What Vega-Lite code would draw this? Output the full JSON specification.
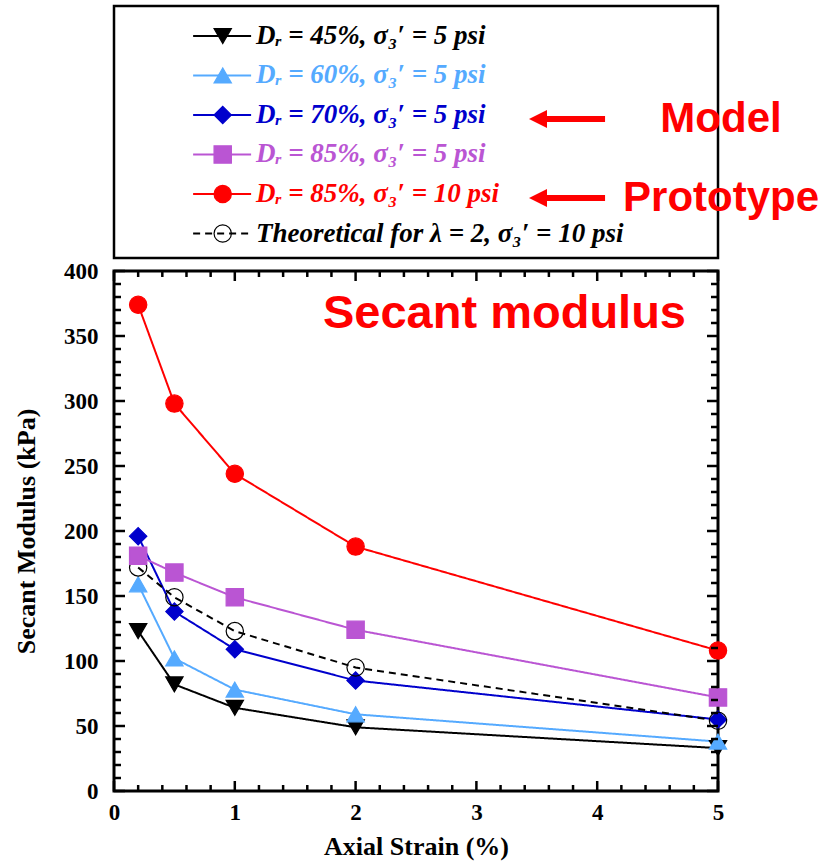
{
  "$schema": "https://vega.github.io/schema/vega-lite/v6.json",
  "padding": {"left": 12, "top": 4, "right": 0, "bottom": 0},
  "background": "white",
  "spacing": 13,
  "bounds": "flush",
  "config": {
    "view": {"stroke": "black", "strokeWidth": 3},
    "axis": {"grid": false, "domain": false, "ticks": false, "labelFont": "Liberation Serif", "titleFont": "Liberation Serif", "labelColor": "black", "titleColor": "black", "labelFlush": false, "labelOverlap": false}
  },
  "datasets": {
    "main": [
      {"series": "Dr45_5", "strain": 0.2, "modulus": 123},
      {"series": "Dr45_5", "strain": 0.5, "modulus": 82},
      {"series": "Dr45_5", "strain": 1, "modulus": 64},
      {"series": "Dr45_5", "strain": 2, "modulus": 49},
      {"series": "Dr45_5", "strain": 5, "modulus": 33},
      {"series": "Dr60_5", "strain": 0.2, "modulus": 159},
      {"series": "Dr60_5", "strain": 0.5, "modulus": 102},
      {"series": "Dr60_5", "strain": 1, "modulus": 78},
      {"series": "Dr60_5", "strain": 2, "modulus": 59},
      {"series": "Dr60_5", "strain": 5, "modulus": 38},
      {"series": "Dr70_5", "strain": 0.2, "modulus": 196},
      {"series": "Dr70_5", "strain": 0.5, "modulus": 138},
      {"series": "Dr70_5", "strain": 1, "modulus": 109},
      {"series": "Dr70_5", "strain": 2, "modulus": 85},
      {"series": "Dr70_5", "strain": 5, "modulus": 55},
      {"series": "Theory", "strain": 0.2, "modulus": 172},
      {"series": "Theory", "strain": 0.5, "modulus": 149},
      {"series": "Theory", "strain": 1, "modulus": 123},
      {"series": "Theory", "strain": 2, "modulus": 95},
      {"series": "Theory", "strain": 5, "modulus": 54},
      {"series": "Dr85_5", "strain": 0.2, "modulus": 181},
      {"series": "Dr85_5", "strain": 0.5, "modulus": 168},
      {"series": "Dr85_5", "strain": 1, "modulus": 149},
      {"series": "Dr85_5", "strain": 2, "modulus": 124},
      {"series": "Dr85_5", "strain": 5, "modulus": 72},
      {"series": "Dr85_10", "strain": 0.2, "modulus": 374},
      {"series": "Dr85_10", "strain": 0.5, "modulus": 298},
      {"series": "Dr85_10", "strain": 1, "modulus": 244},
      {"series": "Dr85_10", "strain": 2, "modulus": 188},
      {"series": "Dr85_10", "strain": 5, "modulus": 108}
    ],
    "legend": [
      {"series": "Dr45_5", "row": 1, "label": "Dᵣ = 45%,  σ₃′ = 5 psi"},
      {"series": "Dr60_5", "row": 2, "label": "Dᵣ = 60%,  σ₃′ = 5 psi"},
      {"series": "Dr70_5", "row": 3, "label": "Dᵣ = 70%,  σ₃′ = 5 psi"},
      {"series": "Dr85_5", "row": 4, "label": "Dᵣ = 85%,  σ₃′ = 5 psi"},
      {"series": "Dr85_10", "row": 5, "label": "Dᵣ = 85%,  σ₃′ = 10 psi"},
      {"series": "Theory", "row": 6, "label": "Theoretical for λ = 2,  σ₃′ = 10 psi"}
    ],
    "ann": [
      {"label": "Model", "row": 3},
      {"label": "Prototype", "row": 5}
    ],
    "note": [{"label": "Secant modulus"}],
    "xmajor": [{"strain": 0}, {"strain": 1}, {"strain": 2}, {"strain": 3}, {"strain": 4}, {"strain": 5}],
    "xminor": [{"strain": 0.2}, {"strain": 0.4}, {"strain": 0.6}, {"strain": 0.8}, {"strain": 1.2}, {"strain": 1.4}, {"strain": 1.6}, {"strain": 1.8}, {"strain": 2.2}, {"strain": 2.4}, {"strain": 2.6}, {"strain": 2.8}, {"strain": 3.2}, {"strain": 3.4}, {"strain": 3.6}, {"strain": 3.8}, {"strain": 4.2}, {"strain": 4.4}, {"strain": 4.6}, {"strain": 4.8}],
    "ymajor": [{"modulus": 0}, {"modulus": 50}, {"modulus": 100}, {"modulus": 150}, {"modulus": 200}, {"modulus": 250}, {"modulus": 300}, {"modulus": 350}, {"modulus": 400}],
    "yminor": [{"modulus": 10}, {"modulus": 20}, {"modulus": 30}, {"modulus": 40}, {"modulus": 60}, {"modulus": 70}, {"modulus": 80}, {"modulus": 90}, {"modulus": 110}, {"modulus": 120}, {"modulus": 130}, {"modulus": 140}, {"modulus": 160}, {"modulus": 170}, {"modulus": 180}, {"modulus": 190}, {"modulus": 210}, {"modulus": 220}, {"modulus": 230}, {"modulus": 240}, {"modulus": 260}, {"modulus": 270}, {"modulus": 280}, {"modulus": 290}, {"modulus": 310}, {"modulus": 320}, {"modulus": 330}, {"modulus": 340}, {"modulus": 360}, {"modulus": 370}, {"modulus": 380}, {"modulus": 390}]
  },
  "resolve": {"scale": {"x": "independent", "y": "independent"}},
  "vconcat": [
    {
      "width": 604,
      "height": 252,
      "view": {"stroke": "black", "strokeWidth": 2.5},
      "layer": [
        {
          "data": {"name": "legend"},
          "mark": {"type": "rule", "strokeWidth": 2},
          "encoding": {
            "x": {"datum": 13.1, "type": "quantitative", "scale": {"domain": [0, 100], "nice": false, "zero": false}, "axis": null},
            "x2": {"datum": 22.7},
            "y": {"field": "row", "type": "quantitative", "scale": {"domain": [0.241, 6.62], "reverse": true, "nice": false, "zero": false}, "axis": null},
            "color": {"field": "series", "type": "nominal", "legend": null, "scale": {"domain": ["Dr45_5", "Dr60_5", "Dr70_5", "Dr85_5", "Dr85_10", "Theory"], "range": ["#000000", "#55AAFF", "#0000CC", "#BA55D3", "#FF0000", "#000000"]}},
            "strokeDash": {"field": "series", "type": "nominal", "legend": null, "scale": {"domain": ["Dr45_5", "Dr60_5", "Dr70_5", "Dr85_5", "Dr85_10", "Theory"], "range": [[1, 0], [1, 0], [1, 0], [1, 0], [1, 0], [7, 5]]}}
          }
        },
        {
          "data": {"name": "legend"},
          "mark": {"type": "point", "strokeWidth": 1.2, "opacity": 1},
          "encoding": {
            "x": {"datum": 18.0, "type": "quantitative", "axis": null},
            "y": {"field": "row", "type": "quantitative", "axis": null},
            "shape": {"field": "series", "type": "nominal", "legend": null, "scale": {"domain": ["Dr45_5", "Dr60_5", "Dr70_5", "Dr85_5", "Dr85_10", "Theory"], "range": ["triangle-down", "triangle-up", "diamond", "square", "circle", "circle"]}},
            "fill": {"field": "series", "type": "nominal", "legend": null, "scale": {"domain": ["Dr45_5", "Dr60_5", "Dr70_5", "Dr85_5", "Dr85_10", "Theory"], "range": ["#000000", "#55AAFF", "#0000CC", "#BA55D3", "#FF0000", "transparent"]}},
            "stroke": {"field": "series", "type": "nominal", "legend": null, "scale": {"domain": ["Dr45_5", "Dr60_5", "Dr70_5", "Dr85_5", "Dr85_10", "Theory"], "range": ["#000000", "#55AAFF", "#0000CC", "#BA55D3", "#FF0000", "#000000"]}},
            "size": {"field": "series", "type": "nominal", "legend": null, "scale": {"domain": ["Dr45_5", "Dr60_5", "Dr70_5", "Dr85_5", "Dr85_10", "Theory"], "range": [300, 300, 290, 361, 270, 240]}}
          }
        },
        {
          "data": {"name": "legend"},
          "mark": {"type": "text", "align": "left", "baseline": "middle", "font": "Liberation Serif", "fontSize": 27, "fontWeight": "bold", "fontStyle": "italic"},
          "encoding": {
            "x": {"datum": 23.5, "type": "quantitative", "axis": null},
            "y": {"field": "row", "type": "quantitative", "axis": null},
            "text": {"field": "label"},
            "color": {"field": "series", "type": "nominal", "legend": null, "scale": {"domain": ["Dr45_5", "Dr60_5", "Dr70_5", "Dr85_5", "Dr85_10", "Theory"], "range": ["#000000", "#55AAFF", "#0000CC", "#BA55D3", "#FF0000", "#000000"]}}
          }
        },
        {
          "data": {"name": "ann"},
          "mark": {"type": "rule", "strokeWidth": 6, "color": "#FF0000", "yOffset": 4},
          "encoding": {
            "x": {"datum": 70.7, "type": "quantitative", "axis": null},
            "x2": {"datum": 81.3},
            "y": {"field": "row", "type": "quantitative", "axis": null}
          }
        },
        {
          "data": {"name": "ann"},
          "mark": {"type": "point", "shape": "M-1,0L1,-1L1,1Z", "filled": true, "color": "#FF0000", "opacity": 1, "size": 324, "yOffset": 4},
          "encoding": {
            "x": {"datum": 70.2, "type": "quantitative", "axis": null},
            "y": {"field": "row", "type": "quantitative", "axis": null}
          }
        },
        {
          "data": {"name": "ann"},
          "mark": {"type": "text", "align": "center", "baseline": "middle", "font": "Liberation Sans", "fontSize": 42, "fontWeight": "bold", "color": "#FF0000", "yOffset": 4},
          "encoding": {
            "x": {"datum": 100.5, "type": "quantitative", "axis": null},
            "y": {"field": "row", "type": "quantitative", "axis": null},
            "text": {"field": "label"}
          }
        }
      ]
    },
    {
      "width": 604,
      "height": 520,
      "view": {"stroke": "black", "strokeWidth": 3},
      "layer": [
        {
          "data": {"name": "main"},
          "mark": {"type": "line", "strokeWidth": 2},
          "encoding": {
            "x": {"field": "strain", "type": "quantitative", "scale": {"domain": [0, 5], "nice": false, "zero": false},
              "axis": {"orient": "bottom", "values": [0, 1, 2, 3, 4, 5], "format": "d", "labelFontSize": 23, "labelFontWeight": "bold", "labelPadding": 10, "title": "Axial Strain (%)", "titleFontSize": 26, "titleFontWeight": "bold", "titlePadding": 9}},
            "y": {"field": "modulus", "type": "quantitative", "scale": {"domain": [0, 400], "nice": false, "zero": false},
              "axis": {"orient": "left", "values": [0, 50, 100, 150, 200, 250, 300, 350, 400], "format": "d", "labelFontSize": 23, "labelFontWeight": "bold", "labelPadding": 16, "title": "Secant Modulus (kPa)", "titleFontSize": 26, "titleFontWeight": "bold", "titlePadding": 24}},
            "color": {"field": "series", "type": "nominal", "legend": null, "scale": {"domain": ["Dr45_5", "Dr60_5", "Dr70_5", "Dr85_5", "Dr85_10", "Theory"], "range": ["#000000", "#55AAFF", "#0000CC", "#BA55D3", "#FF0000", "#000000"]}},
            "strokeDash": {"field": "series", "type": "nominal", "legend": null, "scale": {"domain": ["Dr45_5", "Dr60_5", "Dr70_5", "Dr85_5", "Dr85_10", "Theory"], "range": [[1, 0], [1, 0], [1, 0], [1, 0], [1, 0], [7, 5]]}}
          }
        },
        {
          "data": {"name": "main"},
          "mark": {"type": "point", "strokeWidth": 1.2, "opacity": 1},
          "encoding": {
            "x": {"field": "strain", "type": "quantitative"},
            "y": {"field": "modulus", "type": "quantitative"},
            "shape": {"field": "series", "type": "nominal", "legend": null, "scale": {"domain": ["Dr45_5", "Dr60_5", "Dr70_5", "Dr85_5", "Dr85_10", "Theory"], "range": ["triangle-down", "triangle-up", "diamond", "square", "circle", "circle"]}},
            "fill": {"field": "series", "type": "nominal", "legend": null, "scale": {"domain": ["Dr45_5", "Dr60_5", "Dr70_5", "Dr85_5", "Dr85_10", "Theory"], "range": ["#000000", "#55AAFF", "#0000CC", "#BA55D3", "#FF0000", "transparent"]}},
            "stroke": {"field": "series", "type": "nominal", "legend": null, "scale": {"domain": ["Dr45_5", "Dr60_5", "Dr70_5", "Dr85_5", "Dr85_10", "Theory"], "range": ["#000000", "#55AAFF", "#0000CC", "#BA55D3", "#FF0000", "#000000"]}},
            "size": {"field": "series", "type": "nominal", "legend": null, "scale": {"domain": ["Dr45_5", "Dr60_5", "Dr70_5", "Dr85_5", "Dr85_10", "Theory"], "range": [300, 300, 290, 361, 270, 240]}}
          }
        },
        {
          "data": {"name": "xmajor"},
          "mark": {"type": "rule", "strokeWidth": 2.5, "color": "black"},
          "encoding": {"x": {"field": "strain", "type": "quantitative"}, "y": {"datum": 0, "type": "quantitative"}, "y2": {"datum": 7.7}}
        },
        {
          "data": {"name": "xmajor"},
          "mark": {"type": "rule", "strokeWidth": 2.5, "color": "black"},
          "encoding": {"x": {"field": "strain", "type": "quantitative"}, "y": {"datum": 400, "type": "quantitative"}, "y2": {"datum": 392.3}}
        },
        {
          "data": {"name": "xminor"},
          "mark": {"type": "rule", "strokeWidth": 2.5, "color": "black"},
          "encoding": {"x": {"field": "strain", "type": "quantitative"}, "y": {"datum": 0, "type": "quantitative"}, "y2": {"datum": 4.6}}
        },
        {
          "data": {"name": "xminor"},
          "mark": {"type": "rule", "strokeWidth": 2.5, "color": "black"},
          "encoding": {"x": {"field": "strain", "type": "quantitative"}, "y": {"datum": 400, "type": "quantitative"}, "y2": {"datum": 395.4}}
        },
        {
          "data": {"name": "ymajor"},
          "mark": {"type": "rule", "strokeWidth": 2.5, "color": "black"},
          "encoding": {"y": {"field": "modulus", "type": "quantitative"}, "x": {"datum": 0, "type": "quantitative"}, "x2": {"datum": 0.091}}
        },
        {
          "data": {"name": "ymajor"},
          "mark": {"type": "rule", "strokeWidth": 2.5, "color": "black"},
          "encoding": {"y": {"field": "modulus", "type": "quantitative"}, "x": {"datum": 5, "type": "quantitative"}, "x2": {"datum": 4.909}}
        },
        {
          "data": {"name": "yminor"},
          "mark": {"type": "rule", "strokeWidth": 2.5, "color": "black"},
          "encoding": {"y": {"field": "modulus", "type": "quantitative"}, "x": {"datum": 0, "type": "quantitative"}, "x2": {"datum": 0.058}}
        },
        {
          "data": {"name": "yminor"},
          "mark": {"type": "rule", "strokeWidth": 2.5, "color": "black"},
          "encoding": {"y": {"field": "modulus", "type": "quantitative"}, "x": {"datum": 5, "type": "quantitative"}, "x2": {"datum": 4.942}}
        },
        {
          "data": {"name": "note"},
          "mark": {"type": "text", "align": "left", "baseline": "alphabetic", "font": "Liberation Sans", "fontSize": 47, "fontWeight": "bold", "color": "#FF0000"},
          "encoding": {
            "x": {"datum": 1.73, "type": "quantitative"},
            "y": {"datum": 356, "type": "quantitative"},
            "text": {"field": "label"}
          }
        }
      ]
    }
  ]
}
